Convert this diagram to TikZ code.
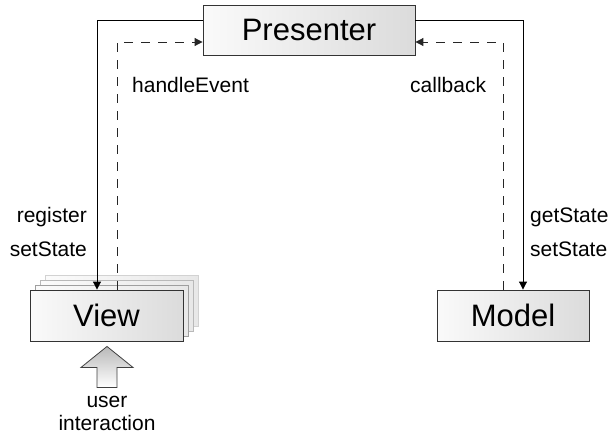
\documentclass[tikz,border=0pt]{standalone}
\usepackage{fontspec}
\setmainfont{Liberation Sans}
\usetikzlibrary{arrows.meta,calc}
\tikzset{
>={Triangle[length=8pt,width=8pt]},
box/.style={rectangle,draw=black!80,line width=0.9pt,left color=gray!4,right color=gray!28,
  minimum height=51pt,font=\fontsize{31}{36}\selectfont,inner sep=0pt},
ghost/.style={box,draw=gray!#1,left color=gray!3,right color=gray!18},
freccia/.style={->,line width=1pt},
tratteggio/.style={->,line width=1pt,black!85,dash pattern=on 9pt off 8pt},
etichetta/.style={font=\fontsize{21}{25}\selectfont,inner sep=0pt}}

\begin{document}
\begin{tikzpicture}[x=1pt,y=-1pt]
\useasboundingbox (0,0) rectangle (611,434);

% view stack (shadow copies first)
\foreach \s/\c in {15/35,10/55,5/75}
  \node[ghost=\c,minimum width=153pt] at ($(106.5,315.5)+(\s,-\s)$) {};

\node[box,minimum width=212pt,minimum height=50pt] (pres) at (309,30) {Presenter};
\node[box,minimum width=153pt] (view) at (106.5,315.5) {View};
\node[box,minimum width=152pt] (model) at (513,315.5) {Model};

% connectors
\draw[freccia] ([yshift=10pt]pres.west) -| ([xshift=-9.5pt]view.north);
\draw[tratteggio] ([xshift=10.5pt]view.north) |- ([yshift=-12pt]pres.west);
\draw[freccia] ([yshift=10pt]pres.east) -| ([xshift=10pt]model.north);
\draw[tratteggio] ([xshift=-10pt]model.north) |- ([yshift=-12pt]pres.east);

% labels
\node[etichetta,anchor=west] (he) at (132,85) {handleEvent};
\node[etichetta,anchor=west] (cb) at (410,85) {callback};
\node[etichetta,anchor=east] (reg) at (87,217) {register};
\node[etichetta,anchor=east] (ss1) at (87,249) {setState};
\node[etichetta,anchor=west] (gs) at (530,217) {getState};
\node[etichetta,anchor=west] (ss2) at (530,249) {setState};

% user interaction
\node[etichetta,align=center] (user) at (107,413) {user\\[-2pt]interaction};
\draw[line width=0.8pt,draw=black!75,top color=gray!55,bottom color=white]
  ($(view.south)+(0.5,5)$) -- ++(26,21) -- ++(-16,0) -- ++(0,20) -- ++(-20,0)
  -- ++(0,-20) -- ++(-16,0) -- cycle;

\end{tikzpicture}
\end{document}
